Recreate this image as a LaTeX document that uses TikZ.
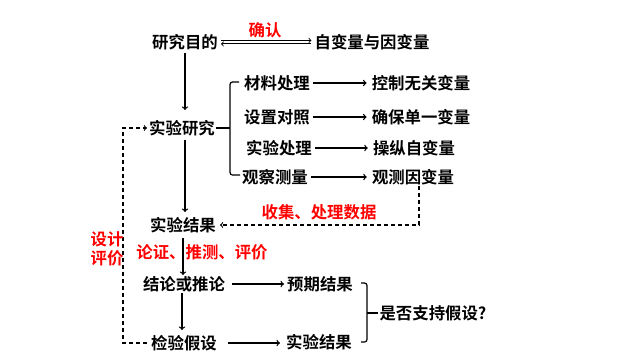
\documentclass[tikz,border=0pt]{standalone}
\usepackage{fontspec}
\setmainfont{Noto Sans CJK SC}[BoldFont={Noto Sans CJK SC Bold}]
\tikzset{
    lbl/.style={font=\bfseries\fontsize{16.4}{16.4}\selectfont, inner sep=1pt},
    note/.style={text=red, font=\bfseries\fontsize{16.4}{19}\selectfont, inner sep=1pt, align=center},
    arr/.style={->, line width=1.3pt},
    dashline/.style={line width=1.1pt, dash pattern=on 4pt off 3pt},
    brace/.style={line width=1.2pt, rounded corners=2.5pt}
}
\begin{document}
\begin{tikzpicture}[x=1pt, y=-1pt]
    \useasboundingbox (0,0) rectangle (640,360);
    \node[lbl] (aim) at (185,42) {研究目的};
    \node[lbl] (var) at (372,42) {自变量与因变量};
    \node[note] (confirm) at (265,30) {确认};
    \draw[->, line width=0.9pt, shorten <=2pt, shorten >=2pt] ([yshift=1.6pt]aim.east) -- ([yshift=1.6pt]var.west);
    \draw[<-, line width=0.9pt, shorten <=2pt, shorten >=2pt] ([yshift=-1.9pt]aim.east) -- ([yshift=-1.9pt]var.west);
    \node[lbl] (study) at (182,128) {实验研究};
    \node[lbl] (m1) at (277,83) {材料处理};
    \node[lbl] (m2) at (277,117) {设置对照};
    \node[lbl] (m3) at (279,148) {实验处理};
    \node[lbl] (m4) at (275,177) {观察测量};
    \node[lbl] (c1) at (421,83) {控制无关变量};
    \node[lbl] (c2) at (421,117) {确保单一变量};
    \node[lbl] (c3) at (414,148) {操纵自变量};
    \node[lbl] (c4) at (413,177) {观测因变量};
    \foreach \i in {1,...,4}
        \draw[arr, shorten <=2pt, shorten >=4pt] (m\i) -- (c\i.west |- m\i);
    \coordinate (br) at (230,128);
    \draw[line width=1.2pt] (study.east) -- (br);
    \draw[brace] (239,82) -- (230,82) -- (230,175) -- (240,175);
    \node[lbl] (res) at (183,225) {实验结果};
    \node[lbl] (concl) at (184,284) {结论或推论};
    \node[lbl] (test) at (184,343) {检验假设};
    \node[lbl] (expect) at (320,284) {预期结果};
    \node[lbl] (actual) at (319,342) {实验结果};
    \node[lbl] (ask) at (433,313) {是否支持假设?};
    \draw[arr, shorten <=2pt, shorten >=9pt] (aim.south) -- (aim.south |- study.north);
    \draw[arr, shorten <=3pt, shorten >=4pt] ([xshift=3pt]study.south) -- ([xshift=3pt]study.south |- res.north);
    \draw[arr, shorten <=4pt] (res.south) -- (res.south |- concl.north);
    \draw[arr, shorten >=4pt] ([xshift=-2pt]concl.south) -- ([xshift=-2pt]concl.south |- test.north);
    \draw[arr, shorten <=6pt, shorten >=2pt] (concl.east) -- (expect.west);
    \draw[arr, shorten <=10pt, shorten >=5pt] (test.east) -- (actual.west |- test.east);
    \node[note] (collect) at (319,212) {收集、处理数据};
    \draw[dashline, ->, shorten >=3pt] ([xshift=6pt]c4.south) |- (res.east);
    \node[note] (argue) at (202,252) {论证、推测、评价};
    \coordinate (fb) at (123,343);
    \draw[dashline, ->, shorten <=3pt, shorten >=1pt] (test.west) -- (fb) |- (study.west);
    \node[note] (design) at (107,249) {设计\\评价};
    \coordinate (bq) at (367,313);
    \draw[brace] (361,283) -- (367,283) -- (367,342) -- (361,342);
    \draw[line width=1.2pt] (bq) -- (ask.west);
\end{tikzpicture}
\end{document}
